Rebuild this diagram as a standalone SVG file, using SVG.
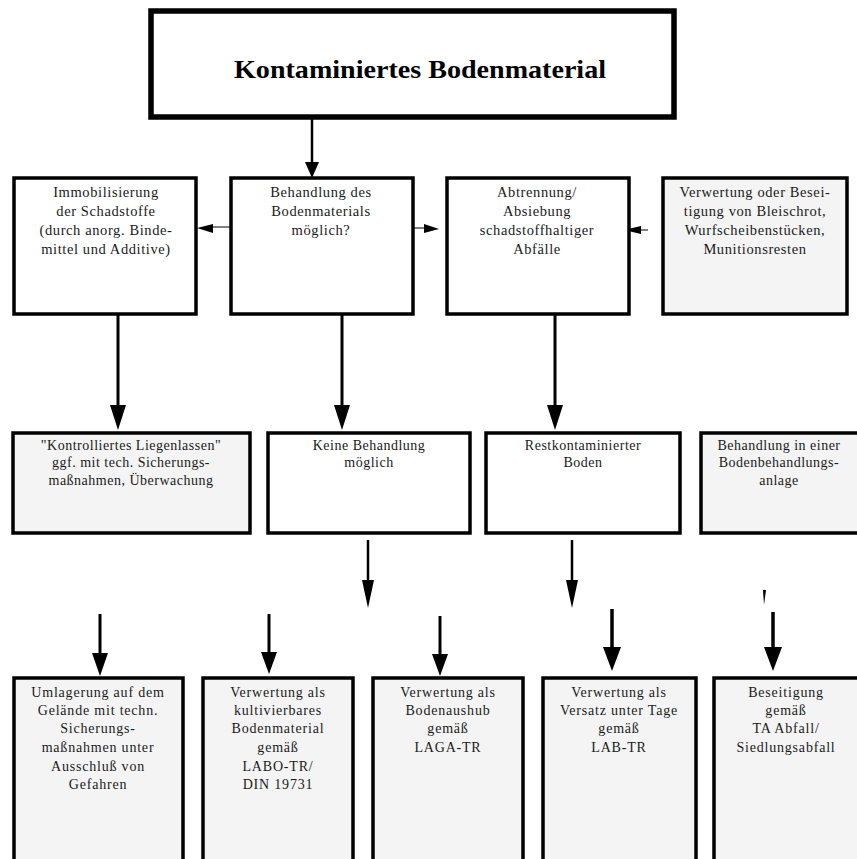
<svg xmlns="http://www.w3.org/2000/svg" width="857" height="859" viewBox="0 0 857 859">
<style>
.box{stroke:#000;stroke-width:3.5;fill:#fff}
.grey{fill:#f4f4f4}
.top{stroke:#000;stroke-width:5.5;fill:#fff}
text{font-family:"Liberation Serif","Times New Roman",serif;fill:#1a1a1a;text-anchor:middle}
.t{font-size:14.5px;letter-spacing:0.6px}
.r{font-size:14px;letter-spacing:0.5px}
.s{font-size:14px;letter-spacing:0.8px}
.h{font-size:25px;font-weight:bold;fill:#000}
.ln{stroke:#000;fill:none}
.hd{fill:#000}
</style>
<rect width="857" height="859" fill="#fff"/>
<g id="connectors">
<line class="ln" x1="312" y1="118" x2="312" y2="164" stroke-width="2.5"/>
<polygon class="hd" points="305,162 319,162 312,178"/>
<line class="ln" x1="118" y1="314" x2="118" y2="408" stroke-width="3"/>
<polygon class="hd" points="110,405 126,405 118,430"/>
<line class="ln" x1="342" y1="314" x2="342" y2="408" stroke-width="3"/>
<polygon class="hd" points="334,405 350,405 342,430"/>
<line class="ln" x1="555" y1="314" x2="555" y2="408" stroke-width="3"/>
<polygon class="hd" points="547,405 563,405 555,430"/>
<line class="ln" x1="230" y1="227" x2="210" y2="227" stroke="#777" stroke-width="1"/>
<polygon class="hd" points="197,228 213,224 213,233"/>
<line class="ln" x1="413" y1="228" x2="426" y2="228" stroke="#777" stroke-width="1"/>
<polygon class="hd" points="439,229 424,224 424,233"/>
<line class="ln" x1="640" y1="230" x2="648" y2="230" stroke="#777" stroke-width="1"/>
<polygon class="hd" points="624,230 641,226 641,234"/>
<line class="ln" x1="368" y1="540" x2="368" y2="585" stroke-width="2.5"/>
<polygon class="hd" points="362,580 374,580 368,608"/>
<line class="ln" x1="572" y1="540" x2="572" y2="585" stroke-width="2.5"/>
<polygon class="hd" points="566,580 578,580 572,608"/>
<polygon class="hd" points="763,590 766,590 764,605"/>
<line class="ln" x1="100" y1="614" x2="100" y2="658" stroke-width="3"/>
<polygon class="hd" points="92,653 108,653 100,676"/>
<line class="ln" x1="269" y1="614" x2="269" y2="656" stroke-width="3"/>
<polygon class="hd" points="261,652 277,652 269,674"/>
<line class="ln" x1="440" y1="616" x2="440" y2="658" stroke-width="3"/>
<polygon class="hd" points="432,654 448,654 440,676"/>
<line class="ln" x1="612" y1="609" x2="612" y2="652" stroke-width="3.5"/>
<polygon class="hd" points="603,647 621,647 612,671"/>
<line class="ln" x1="773" y1="612" x2="773" y2="652" stroke-width="3.5"/>
<polygon class="hd" points="764,647 782,647 773,671"/>
</g>
<g id="n0">
<rect class="top" x="151" y="11" width="523" height="106"/>
<text class="h" x="420" y="78" textLength="372" lengthAdjust="spacingAndGlyphs">Kontaminiertes Bodenmaterial</text>
</g>
<g id="n1">
<rect class="box" x="14" y="178" width="182" height="136"/>
<text class="t" x="106" y="197">Immobilisierung</text>
<text class="t" x="106" y="216">der Schadstoffe</text>
<text class="t" x="106" y="235">(durch anorg. Binde-</text>
<text class="t" x="106" y="254">mittel und Additive)</text>
</g>
<g id="n2">
<rect class="box" x="231" y="178" width="182" height="136"/>
<text class="t" x="321" y="197">Behandlung des</text>
<text class="t" x="321" y="216">Bodenmaterials</text>
<text class="t" x="321" y="235">möglich?</text>
</g>
<g id="n3">
<rect class="box" x="447" y="178" width="182" height="136"/>
<text class="t" x="537" y="197">Abtrennung/</text>
<text class="t" x="537" y="216">Absiebung</text>
<text class="t" x="537" y="235">schadstoffhaltiger</text>
<text class="t" x="537" y="254">Abfälle</text>
</g>
<g id="n4">
<rect class="box grey" x="663" y="178" width="184" height="136"/>
<text class="t" x="755" y="197">Verwertung oder Besei-</text>
<text class="t" x="755" y="216">tigung von Bleischrot,</text>
<text class="t" x="755" y="235">Wurfscheibenstücken,</text>
<text class="t" x="755" y="254">Munitionsresten</text>
</g>
<g id="n5">
<rect class="box grey" x="13" y="433" width="237" height="100"/>
<text class="r" x="131" y="450">"Kontrolliertes Liegenlassen"</text>
<text class="r" x="131" y="467">ggf. mit tech. Sicherungs-</text>
<text class="r" x="131" y="485">maßnahmen, Überwachung</text>
</g>
<g id="n6">
<rect class="box" x="268" y="433" width="202" height="100"/>
<text class="r" x="369" y="450">Keine Behandlung</text>
<text class="r" x="369" y="467">möglich</text>
</g>
<g id="n7">
<rect class="box" x="486" y="433" width="194" height="100"/>
<text class="r" x="583" y="450">Restkontaminierter</text>
<text class="r" x="583" y="467">Boden</text>
</g>
<g id="n8">
<rect class="box grey" x="701" y="433" width="158" height="100"/>
<text class="r" x="779" y="450">Behandlung in einer</text>
<text class="r" x="779" y="467">Bodenbehandlungs-</text>
<text class="r" x="779" y="485">anlage</text>
</g>
<g id="n9">
<rect class="box grey" x="14" y="678" width="169" height="190"/>
<text class="s" x="98" y="697">Umlagerung auf dem</text>
<text class="s" x="98" y="715">Gelände mit techn.</text>
<text class="s" x="98" y="733">Sicherungs-</text>
<text class="s" x="98" y="752">maßnahmen unter</text>
<text class="s" x="98" y="771">Ausschluß von</text>
<text class="s" x="98" y="789">Gefahren</text>
</g>
<g id="n10">
<rect class="box grey" x="203" y="678" width="150" height="190"/>
<text class="s" x="278" y="697">Verwertung als</text>
<text class="s" x="278" y="715">kultivierbares</text>
<text class="s" x="278" y="733">Bodenmaterial</text>
<text class="s" x="278" y="752">gemäß</text>
<text class="s" x="278" y="771">LABO-TR/</text>
<text class="s" x="278" y="789">DIN 19731</text>
</g>
<g id="n11">
<rect class="box grey" x="373" y="678" width="150" height="190"/>
<text class="s" x="448" y="697">Verwertung als</text>
<text class="s" x="448" y="715">Bodenaushub</text>
<text class="s" x="448" y="733">gemäß</text>
<text class="s" x="448" y="752">LAGA-TR</text>
</g>
<g id="n12">
<rect class="box grey" x="543" y="678" width="153" height="190"/>
<text class="s" x="619" y="697">Verwertung als</text>
<text class="s" x="619" y="715">Versatz unter Tage</text>
<text class="s" x="619" y="733">gemäß</text>
<text class="s" x="619" y="752">LAB-TR</text>
</g>
<g id="n13">
<rect class="box grey" x="714" y="678" width="150" height="190"/>
<text class="s" x="786" y="697">Beseitigung</text>
<text class="s" x="786" y="715">gemäß</text>
<text class="s" x="786" y="733">TA Abfall/</text>
<text class="s" x="786" y="752">Siedlungsabfall</text>
</g>
</svg>
